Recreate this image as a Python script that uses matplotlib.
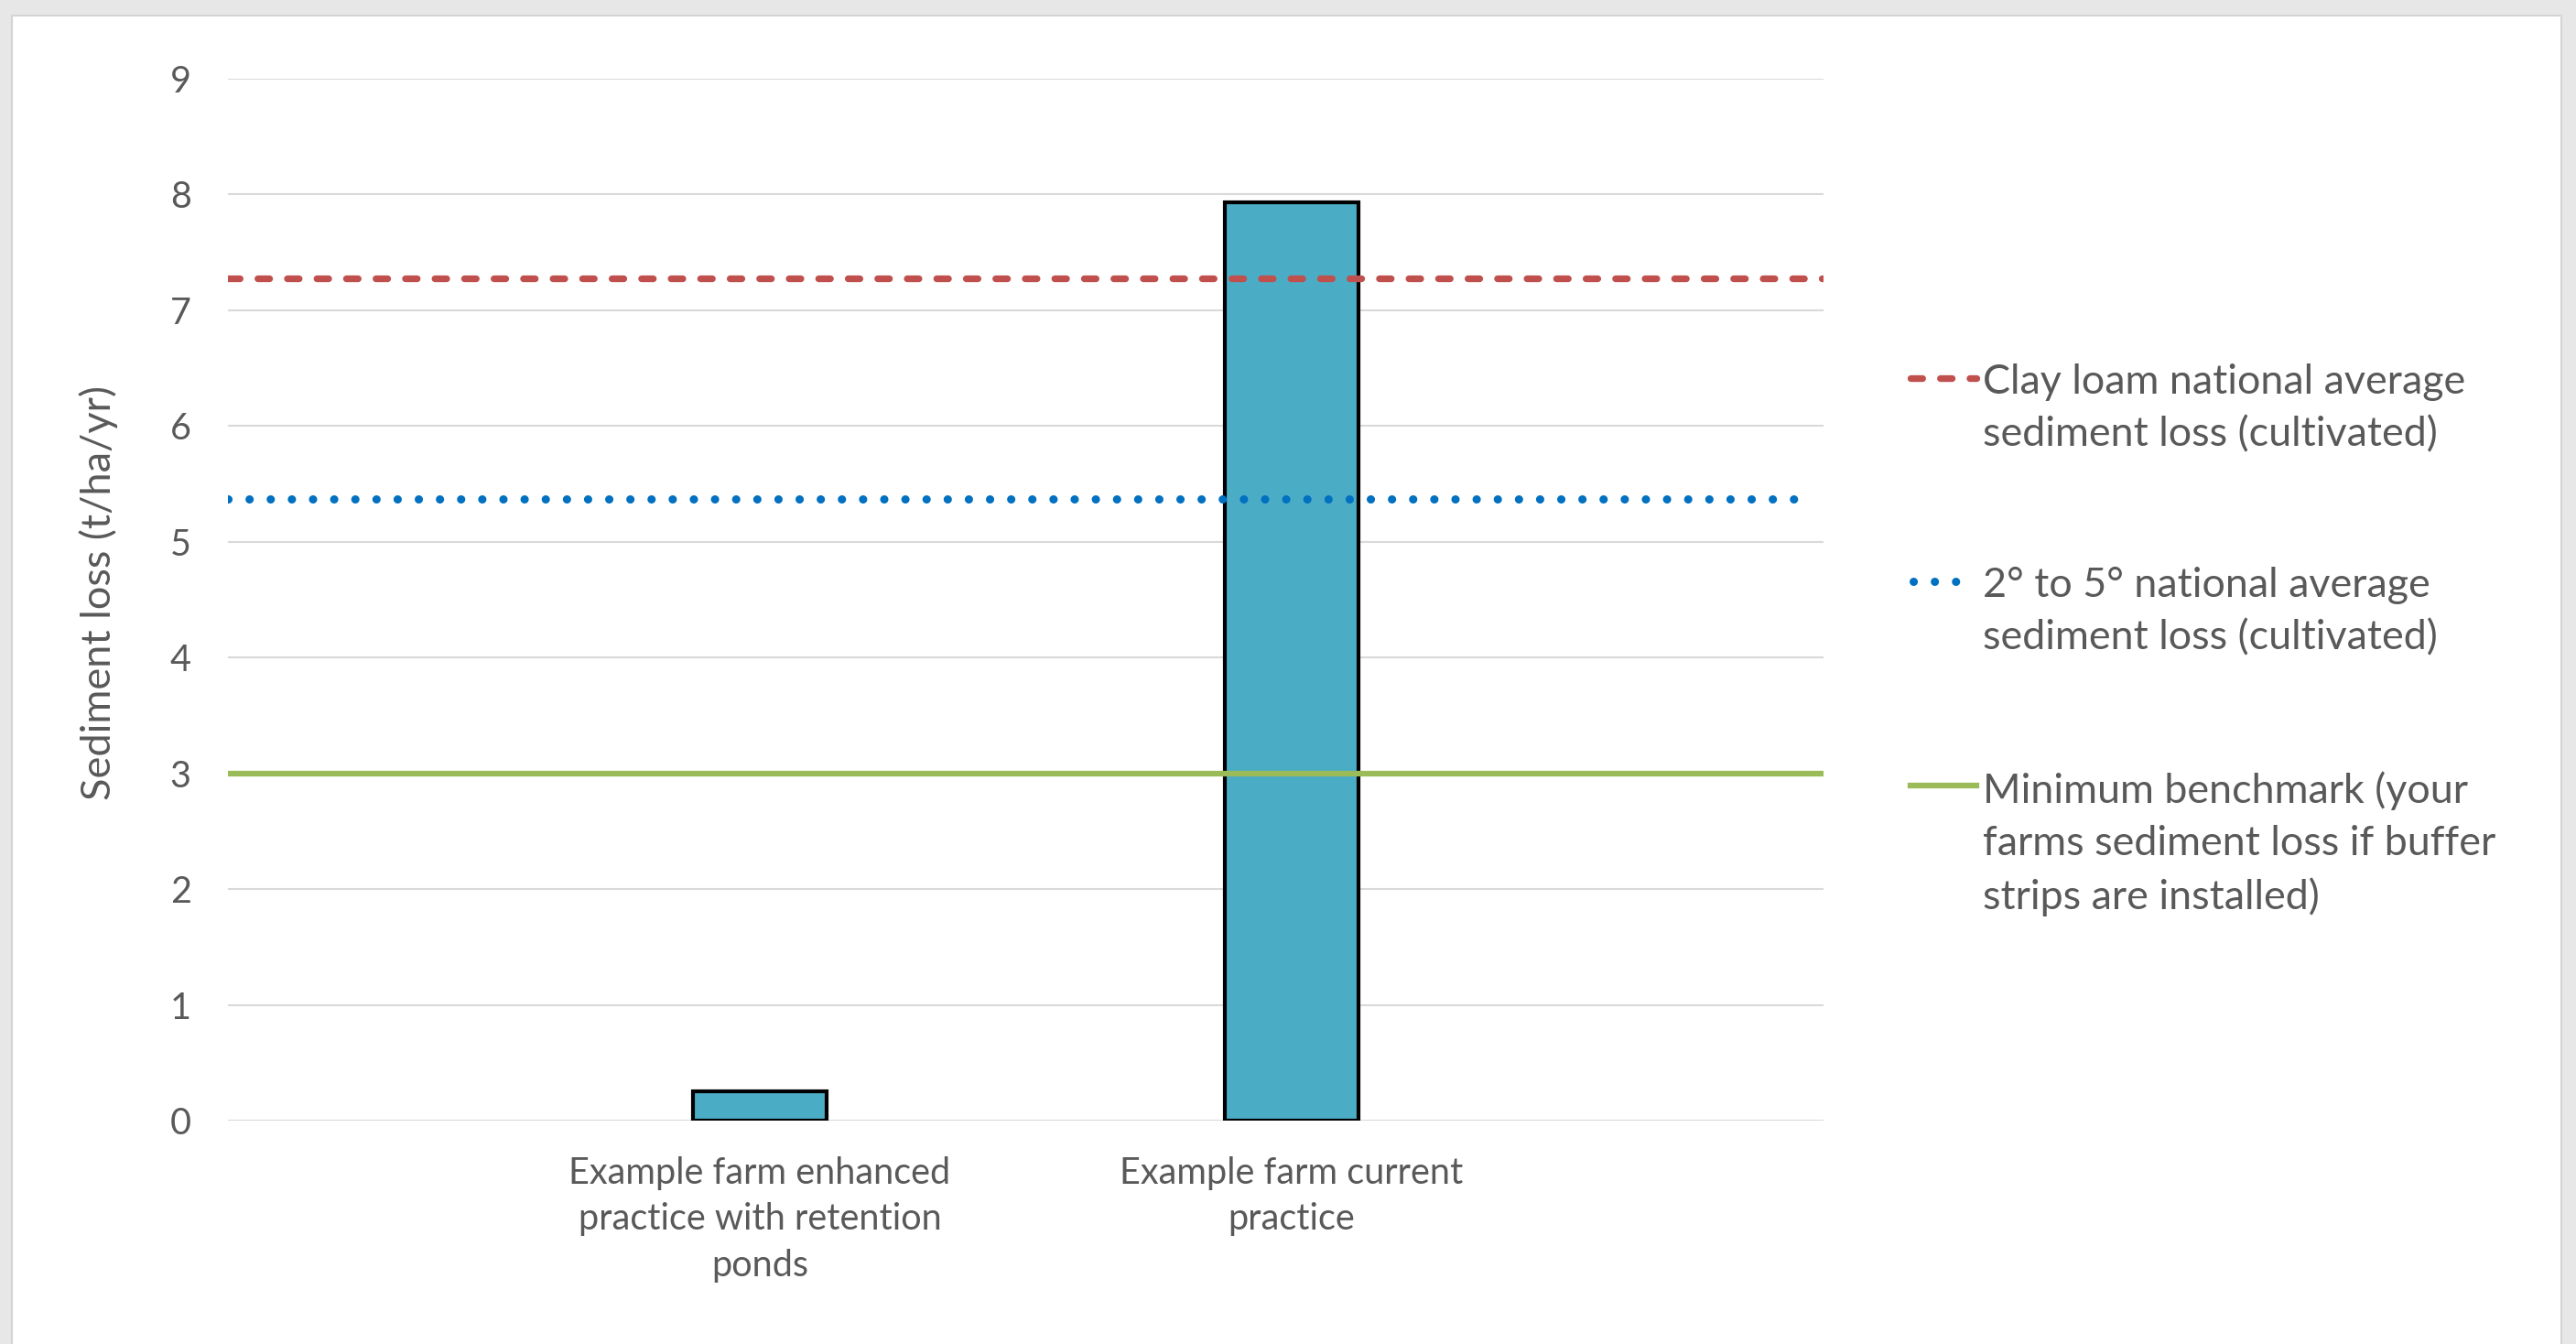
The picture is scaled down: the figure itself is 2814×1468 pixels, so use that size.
import matplotlib
matplotlib.use("Agg")
from matplotlib import pyplot as plt
from matplotlib.lines import Line2D
from matplotlib.patches import Rectangle

plt.rcParams['font.family'] = ['Lato', 'DejaVu Sans']

# bar data
categories = ["Example farm enhanced\npractice with retention\nponds",
              "Example farm current\npractice"]
bar_values = [0.25, 7.93]

# reference lines
ref_labels = ["Clay loam national average\nsediment loss (cultivated)",
              "2\u00b0 to 5\u00b0 national average\nsediment loss (cultivated)",
              "Minimum benchmark (your\nfarms sediment loss if buffer\nstrips are installed)"]
ref_values = [7.28, 5.37, 3.0]
ref_colors = ['#C0504D', '#0070C0', '#9BBB59']

text_grey = '#595959'

fig = plt.figure(figsize=(28.14, 14.68), dpi=100, facecolor='#E7E7E7')
# white chart panel
fig.add_artist(Rectangle((0.0046, -0.01), 0.9897, 0.9984, transform=fig.transFigure,
                         facecolor='white', edgecolor='#D4D4D4', linewidth=1.5, zorder=0))

ax = fig.add_axes([0.0885, 0.1662, 0.6194, 0.7752])
ax.set_facecolor('none')

x = [1, 2]
ax.bar(x, bar_values, width=0.25, color='#4BACC6', edgecolor='black', linewidth=3, zorder=3)

red_style = dict(dashes=(1.74, 2.64), dash_capstyle='round', linewidth=5.3)
blue_style = dict(dashes=(0.01, 2.55), dash_capstyle='round', linewidth=6.5)
green_style = dict(linewidth=4.5)

ax.plot([0, 3], [ref_values[0]] * 2, color=ref_colors[0], zorder=4, **red_style)
ax.plot([0, 2.97], [ref_values[1]] * 2, color=ref_colors[1], zorder=4, **blue_style)
ax.plot([0, 3], [ref_values[2]] * 2, color=ref_colors[2], zorder=4, **green_style)

ax.set_xlim(0, 3)
ax.set_ylim(0, 9)
ax.set_yticks(range(0, 10))
ax.set_xticks(x)
ax.set_xticklabels(categories, fontsize=28.5, color=text_grey, linespacing=1.45)
ax.tick_params(axis='x', length=0, pad=28)
ax.tick_params(axis='y', length=0, pad=29, labelsize=28.5, labelcolor=text_grey)
ax.yaxis.grid(True, color='#D9D9D9', linewidth=1.5, zorder=0)
for s in ax.spines.values():
    s.set_visible(False)
ax.set_ylabel("Sediment loss (t/ha/yr)", fontsize=32.5, color=text_grey)
ax.yaxis.set_label_coords(-0.069, 0.507)

# legend drawn by hand to the right of the plot
legend_y = [0.7187, 0.5674, 0.4155]
handle_x = [(0.7415, 0.7672), (0.7427, 0.7595), (0.7415, 0.7672)]
styles = [red_style, blue_style, green_style]
for lab, col, st, yy, hx in zip(ref_labels, ref_colors, styles, legend_y, handle_x):
    fig.add_artist(Line2D(list(hx), [yy, yy], transform=fig.transFigure,
                          color=col, **st))
    fig.text(0.7697, yy + 0.0110, lab, fontsize=32.3, color=text_grey,
             va='top', ha='left', linespacing=1.49)

fig.savefig('out.png', dpi=100, facecolor=fig.get_facecolor())
